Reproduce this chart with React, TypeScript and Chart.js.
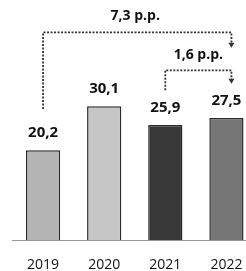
import React, { useEffect, useRef } from "react";
import { Chart, registerables } from "chart.js";

Chart.register(...registerables);

const years = ["2019", "2020", "2021", "2022"];
const values = [20.2, 30.1, 25.9, 27.5];
const valueLabels = ["20,2", "30,1", "25,9", "27,5"];
const barColors = ["#b4b4b4", "#c6c6c6", "#383838", "#777777"];
const changeLabels = ["7,3 p.p.", "1,6 p.p."];

const FONT = "'Open Sans', 'Liberation Sans', sans-serif";

const bracketPlugin = {
  id: "brackets",
  afterDatasetsDraw(chart: any) {
    const ctx = chart.ctx;
    const xs = chart.scales.x;
    const ys = chart.scales.y;
    const meta = chart.getDatasetMeta(0);
    ctx.save();
    ctx.font = `bold 15px ${FONT}`;
    ctx.fillStyle = "#111";
    ctx.textAlign = "center";
    ctx.textBaseline = "bottom";
    meta.data.forEach((el: any, i: number) => {
      ctx.fillText(valueLabels[i], el.x, el.y - 10);
    });

    const drawBracket = (fromIdx: number, toIdx: number, yLeft: number, yTop: number, yRight: number, yLabel: number, label: string) => {
      const x1 = xs.getPixelForValue(fromIdx);
      const x2 = xs.getPixelForValue(toIdx) + 5;
      const pL = ys.getPixelForValue(yLeft);
      const pT = ys.getPixelForValue(yTop);
      const pR = ys.getPixelForValue(yRight);
      ctx.strokeStyle = "#333";
      ctx.lineWidth = 1.8;
      ctx.setLineDash([2, 1.5]);
      ctx.beginPath();
      ctx.moveTo(x1, pL);
      ctx.lineTo(x1, pT);
      ctx.lineTo(x2, pT);
      ctx.lineTo(x2, pR - 3);
      ctx.stroke();
      ctx.setLineDash([]);
      ctx.fillStyle = "#333";
      ctx.beginPath();
      ctx.moveTo(x2 - 3, pR - 4);
      ctx.lineTo(x2 + 3, pR - 4);
      ctx.lineTo(x2, pR + 1);
      ctx.closePath();
      ctx.fill();
      ctx.fillStyle = "#111";
      ctx.font = `bold 14px ${FONT}`;
      ctx.textBaseline = "middle";
      ctx.textAlign = "center";
      const lx = (x1 + x2) / 2;
      ctx.fillText(label, fromIdx === 0 ? lx - 2 : lx, ys.getPixelForValue(yLabel));
    };
    drawBracket(0, 3, 29.5, 46.7, 43.5, 50.3, changeLabels[0]);
    drawBracket(2, 3, 33.7, 38.2, 35.4, 41.6, changeLabels[1]);
    ctx.restore();
  },
};

export default function App() {
  const ref = useRef<HTMLCanvasElement>(null);
  useEffect(() => {
    if (!ref.current) return;
    const chart = new Chart(ref.current, {
      type: "bar",
      data: {
        labels: years,
        datasets: [
          {
            data: values,
            backgroundColor: barColors,
            borderColor: "#2a2a2a",
            borderWidth: 1.5,
            categoryPercentage: 1,
            barPercentage: 0.56,
          },
        ],
      },
      options: {
        responsive: false,
        animation: false,
        layout: { padding: { left: 12.5, right: 1, top: 0, bottom: 2 } },
        plugins: { legend: { display: false }, tooltip: { enabled: false } },
        scales: {
          x: {
            grid: { display: false },
            border: { display: true, color: "#999", dash: [2, 2], width: 1 },
            ticks: { color: "#111", font: { family: FONT, size: 14 }, padding: 8 },
          },
          y: { display: false, min: 0, max: 54 },
        },
      },
      plugins: [bracketPlugin],
    });
    return () => chart.destroy();
  }, []);
  return (
    <div style={{ position: "absolute", left: 0, top: 0, width: 246, height: 271, overflow: "hidden", background: "#fff" }}>
      <canvas ref={ref} width={258} height={283} style={{ display: "block" }} />
    </div>
  );
}
